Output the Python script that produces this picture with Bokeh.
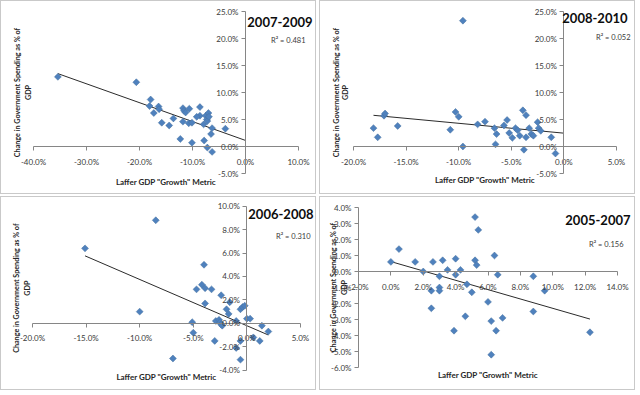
import numpy as np
from bokeh.plotting import figure
from bokeh.models import Range1d, FixedTicker, PrintfTickFormatter, Label
from bokeh.layouts import row, column
from bokeh.embed import file_html
from bokeh.resources import INLINE

FONT = "Lato"

# ---------------- data (percent units) ----------------
titles = ["2007-2009", "2008-2010", "2006-2008", "2005-2007"]
r2_texts = ["R\u00b2 = 0.481", "R\u00b2 = 0.052", "R\u00b2 = 0.310", "R\u00b2 = 0.156"]
x_title = 'Laffer GDP "Growth" Metric'
y_title_lines = ["Change in Government Spending as % of", "GDP"]

x_0709 = [-35.4, -20.6, -17.9, -18.1, -16.4, -16.3, -17.3, -15.8, -14.4, -13.6, -12.3, -11.8,
          -11.6, -11.3, -10.6, -11.8, -10.7, -10.1, -10.1, -8.6, -8.6, -9.2, -7.9, -7.8, -7.5,
          -7.3, -7.2, -7.0, -6.9, -7.2, -6.5, -6.3, -6.3, -3.8]
y_0709 = [12.9, 11.9, 8.7, 7.5, 7.4, 6.9, 6.2, 4.4, 3.9, 5.2, 1.4, 7.1, 6.6, 6.3, 7.0, 4.6, 4.3,
          4.4, 0.7, 5.7, 7.3, 5.5, 4.1, 1.1, 5.7, 5.0, 4.7, 6.2, 5.5, -0.2, 2.3, -1.0, 3.4, 3.3]

x_0810 = [-9.6, -18.1, -17.7, -17.1, -17.0, -15.8, -10.8, -10.3, -10.0, -9.6, -8.2, -7.5, -6.6,
          -6.5, -6.4, -5.7, -5.4, -5.2, -4.9, -4.6, -4.4, -4.2, -3.9, -3.8, -3.6, -3.6, -3.3,
          -3.1, -2.9, -2.5, -2.4, -2.2, -1.2, -0.8]
y_0810 = [23.3, 3.4, 1.7, 5.7, 6.1, 3.8, 3.1, 6.4, 5.5, 0.0, 4.1, 4.6, 3.4, 0.4, 2.3, 3.9, 4.9,
          2.5, 1.6, 3.4, 3.0, 2.0, 6.7, -0.6, 5.8, 1.7, 3.4, 2.3, 2.0, 4.5, 3.4, 2.9, 1.7, -1.3]

x_0608 = [-15.1, -8.5, -10.0, -6.9, -5.1, -5.0, -4.7, -4.2, -4.0, -3.9, -3.9, -3.3, -3.0, -2.9,
          -2.6, -2.5, -2.4, -2.4, -2.3, -1.6, -1.9, -1.7, -1.0, -1.0, -0.6, -0.6, -0.6, -0.4,
          -0.2, 0.0, 0.3, 0.6, 1.2, 1.4, 2.0]
y_0608 = [6.4, 8.8, 1.0, -3.0, 0.1, -0.8, 2.9, 3.3, 5.0, 3.0, 1.7, 2.9, -1.5, 0.2, 0.3, 0.1,
          -0.1, 2.4, -0.2, 1.8, 1.2, 0.8, 0.2, -2.1, 1.2, -1.5, -3.1, 1.4, 1.5, 0.4, 0.4, -1.2,
          -1.5, -0.2, -0.7]

x_0507 = [0.0, 0.5, 1.5, 2.0, 2.6, 2.5, 2.5, 3.0, 3.0, 3.0, 3.2, 3.5, 3.9, 4.0, 4.0, 4.3, 4.7,
          4.6, 5.0, 5.2, 5.2, 5.3, 5.4, 6.0, 6.2, 6.2, 6.4, 6.5, 6.6, 6.9, 8.8, 8.8, 9.5, 12.3]
y_0507 = [0.6, 1.4, 0.6, 0.0, 0.6, -1.2, -2.3, -0.3, -1.0, -1.2, 0.7, 0.1, -3.7, 0.8, -0.2, 0.1,
          -0.8, -2.8, -1.3, 3.4, 0.7, 0.4, 2.6, -1.9, -3.1, -5.2, 1.0, -3.7, -0.2, -2.9, -0.3,
          -2.5, -1.2, -3.8]

xt_0709 = [-40, -30, -20, -10, 0, 10]
yt_0709 = [-5, 0, 5, 10, 15, 20, 25]
xt_0810 = [-20, -15, -10, -5, 0, 5]
yt_0810 = [-5, 0, 5, 10, 15, 20, 25]
xt_0608 = [-20, -15, -10, -5, 0, 5]
yt_0608 = [-4, -2, 0, 2, 4, 6, 8, 10]
xt_0507 = [-2, 0, 2, 4, 6, 8, 10, 12, 14]
yt_0507 = [-6, -5, -4, -3, -2, -1, 0, 1, 2, 3, 4]
y_axis_cross = [0, 0, 0, -2]

AXIS_COLOR = "#868686"
TEXT_COLOR = "#3a3a3a"
W, H = 316, 194


def panel(xs, ys, xt, yt, title, r2, ycross, margins, t_off, r_off, ygaps, xgap):
    L, R, T, B = margins
    dx = (xt[-1] - xt[0]) / (W - L - R)
    dy = (yt[-1] - yt[0]) / (H - T - B)
    p = figure(width=W, height=H, output_backend="svg", toolbar_location=None,
               x_range=Range1d(xt[0] - L * dx, xt[-1] + R * dx),
               y_range=Range1d(yt[0] - B * dy, yt[-1] + T * dy),
               min_border=0)
    p.grid.visible = False
    p.outline_line_color = None
    p.styles = {"border": "1px solid #c9c9c9"}

    xa, ya = p.xaxis[0], p.yaxis[0]
    xa.fixed_location = 0
    ya.fixed_location = ycross
    xa.bounds = (xt[0], xt[-1])
    ya.bounds = (yt[0], yt[-1])
    xa.ticker = FixedTicker(ticks=xt)
    ya.ticker = FixedTicker(ticks=yt)
    for ax in (xa, ya):
        ax.formatter = PrintfTickFormatter(format="%.1f%%")
        ax.axis_line_color = AXIS_COLOR
        ax.major_tick_line_color = AXIS_COLOR
        ax.minor_tick_line_color = None
        ax.major_tick_in = 0
        ax.major_tick_out = 4
        ax.major_label_text_font = FONT
        ax.major_label_text_font_size = "8px"
        ax.major_label_text_color = TEXT_COLOR
    xa.major_label_standoff = 6
    ya.major_label_standoff = 3

    # trendline (least squares)
    k, b = np.polyfit(xs, ys, 1)
    tx = np.array([min(xs), max(max(xs), 0)])
    p.line(tx, k * tx + b, line_color="#2b2b2b", line_width=1)

    p.scatter(xs, ys, marker="square", size=4.9, angle=np.pi / 4,
              fill_color="#4F81BD", line_color="#44719f", line_width=0.5)

    # axis titles
    p.add_layout(Label(x=(xt[0] + xt[-1]) / 2, y=yt[0], y_offset=-xgap, text=x_title,
                       text_align="center", text_baseline="middle", text_font=FONT,
                       text_font_style="bold", text_font_size="8px", text_color="#262626"))
    for line_text, gap in zip(y_title_lines, ygaps):
        p.add_layout(Label(x=xt[0], y=(yt[0] + yt[-1]) / 2, x_offset=-gap, angle=np.pi / 2,
                           text=line_text, text_align="center", text_baseline="middle",
                           text_font=FONT, text_font_style="bold", text_font_size="7.2px",
                           text_color="#262626"))

    p.add_layout(Label(x=xt[-1], y=yt[-1], x_offset=t_off[0], y_offset=-t_off[1], text=title,
                       text_align="right", text_baseline="middle", text_font=FONT,
                       text_font_style="bold", text_font_size="13px", text_color="#0d0d0d"))
    p.add_layout(Label(x=xt[-1], y=yt[-1], x_offset=r_off[0], y_offset=-r_off[1], text=r2,
                       text_align="right", text_baseline="middle", text_font=FONT,
                       text_font_size="7.5px", text_color=TEXT_COLOR))
    return p


p1 = panel(x_0709, y_0709, xt_0709, yt_0709, titles[0], r2_texts[0], y_axis_cross[0],
           (32, 19, 10, 22), (14, 10), (7, 29), (16, 5.5), 8)
p2 = panel(x_0810, y_0810, xt_0810, yt_0810, titles[1], r2_texts[1], y_axis_cross[1],
           (33, 20, 10, 22), (11, 6), (14, 26), (17, 7.7), 6.6)
p3 = panel(x_0608, y_0608, xt_0608, yt_0608, titles[2], r2_texts[2], y_axis_cross[2],
           (31, 17, 8.7, 21.3), (13, 8), (10, 30), (16, 5.3), 6.5)
p4 = panel(x_0507, y_0507, xt_0507, yt_0507, titles[3], r2_texts[3], y_axis_cross[3],
           (38, 19, 10, 24), (13, 12), (6, 37), (25, 14), 7.7)

layout = column(row(p1, p2, spacing=3), row(p3, p4, spacing=3), spacing=2)

open("out.html", "w").write(file_html(layout, INLINE))
